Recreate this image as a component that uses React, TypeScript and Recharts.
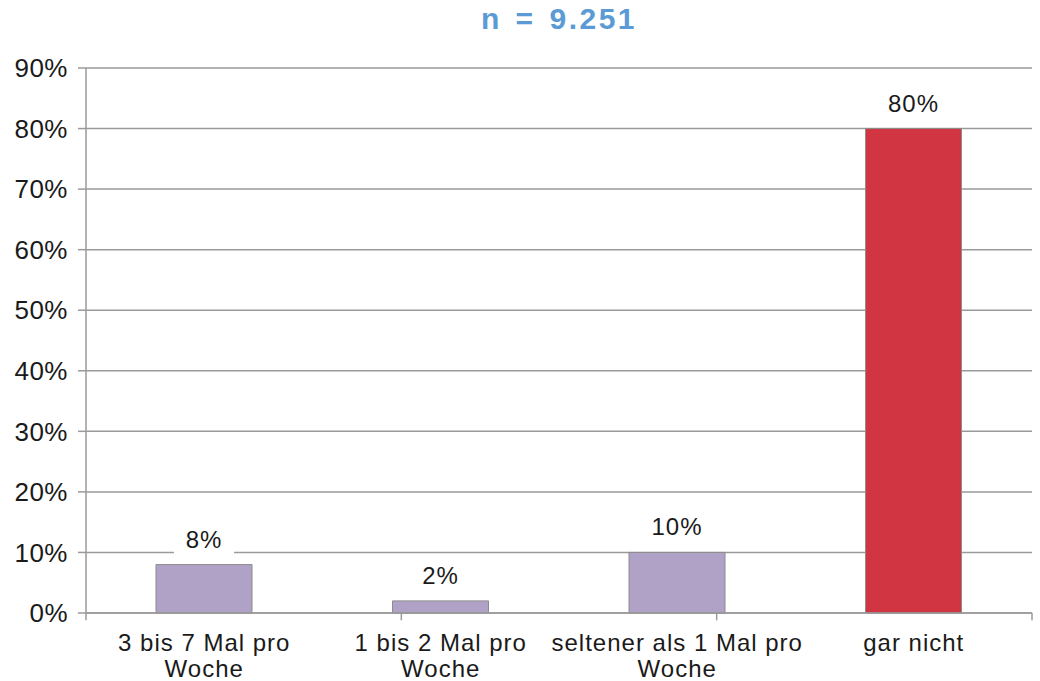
import { BarChart, Bar, XAxis, YAxis, CartesianGrid, Cell, LabelList, ReferenceLine } from "recharts"

const categories = [
  "3 bis 7 Mal pro\nWoche",
  "1 bis 2 Mal pro\nWoche",
  "seltener als 1 Mal pro\nWoche",
  "gar nicht",
]
const shares = [8, 2, 10, 80]
const barColors = ["#b0a2c7", "#b0a2c7", "#b0a2c7", "#d13542"]
const yTicks = [0, 10, 20, 30, 40, 50, 60, 70, 80, 90]
const boundaryTicks = [0, 1, 2, 3, 4]
const title = "n = 9.251"

const data = categories.map((name, i) => ({ name, value: shares[i] }))

const FONT = "'Liberation Sans', Arial, sans-serif"
const GRID = "#9a9a9a"

function CategoryTick({ x, y, payload }: any) {
  const lines = String(payload.value).split("\n")
  return (
    <text
      x={x}
      y={y + 38}
      textAnchor="middle"
      fontFamily={FONT}
      fontSize={24}
      letterSpacing={1}
      fill="#1a1a1a"
    >
      {lines.map((line, i) => (
        <tspan key={i} x={x} dy={i === 0 ? 0 : 26}>
          {line}
        </tspan>
      ))}
    </text>
  )
}

function ValueLabel({ x, y, width, value }: any) {
  const cx = x + width / 2
  return (
    <g>
      <rect x={cx - 30} y={y - 40} width={60} height={30} fill="#fff" />
      <text
        x={cx}
        y={y - 17}
        textAnchor="middle"
        fontFamily={FONT}
        fontSize={24}
        letterSpacing={1}
        fill="#1a1a1a"
      >
        {value}%
      </text>
    </g>
  )
}

export default function App() {
  return (
    <div style={{ position: "absolute", left: 0, top: 0, width: 1040, height: 681, background: "#fff" }}>
      <div
        style={{
          position: "absolute",
          left: 86,
          top: 2,
          width: 946,
          textAlign: "center",
          fontFamily: FONT,
          fontWeight: 700,
          fontSize: 30,
          letterSpacing: 2.5,
          wordSpacing: 3,
          color: "#5b9bd5",
        }}
      >
        {title}
      </div>
      <BarChart
        width={1040}
        height={681}
        data={data}
        margin={{ top: 68, right: 8, bottom: 8, left: 0 }}
      >
        <CartesianGrid vertical={false} stroke={GRID} strokeWidth={1.5} />
        <XAxis
          xAxisId="b"
          type="number"
          domain={[0, 4]}
          ticks={boundaryTicks}
          height={0}
          hide
        />
        <XAxis
          dataKey="name"
          height={60}
          axisLine={{ stroke: GRID, strokeWidth: 1.5 }}
          tickLine={false}
          tickSize={0}
          tickMargin={0}
          tick={<CategoryTick />}
          interval={0}
        />
        <YAxis
          width={86}
          domain={[0, 90]}
          ticks={yTicks}
          interval={0}
          tickFormatter={(v: number) => `${v}%`}
          axisLine={{ stroke: GRID, strokeWidth: 1.5 }}
          tickLine={{ stroke: GRID, strokeWidth: 1.5 }}
          tickSize={8}
          tickMargin={10}
          tick={{ fontFamily: FONT, fontSize: 26, letterSpacing: 0.5, fill: "#1a1a1a" }}
        />
        <ReferenceLine xAxisId="b" x={4} stroke={GRID} strokeWidth={1.5} />
        {boundaryTicks.map((b) => (
          <ReferenceLine
            key={b}
            xAxisId="b"
            segment={[
              { x: b, y: 0 },
              { x: b, y: -1.2 },
            ]}
            ifOverflow="visible"
            stroke={GRID}
            strokeWidth={1.5}
          />
        ))}
        <Bar dataKey="value" barSize={96} stroke="#8c8c8c" strokeWidth={1} isAnimationActive={false}>
          {data.map((_, i) => (
            <Cell key={i} fill={barColors[i]} />
          ))}
          <LabelList dataKey="value" content={<ValueLabel />} />
        </Bar>
      </BarChart>
    </div>
  )
}
